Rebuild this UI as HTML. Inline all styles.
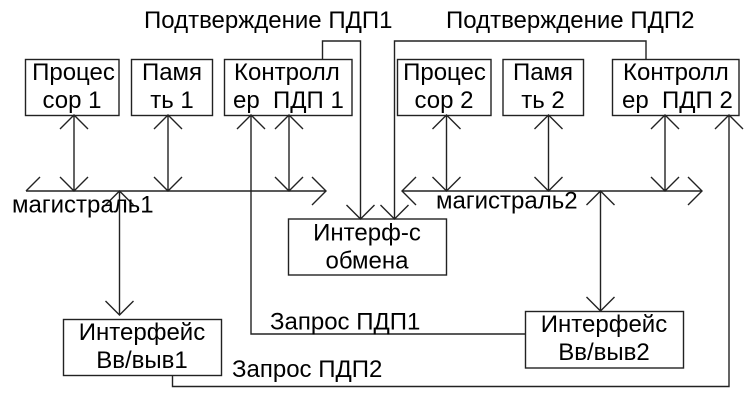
<!DOCTYPE html>
<html lang="ru">
<head>
<meta charset="utf-8">
<style>
html,body{margin:0;padding:0;background:#fff;}
svg{display:block;}
text{font-family:"Liberation Sans",sans-serif;font-size:24px;fill:#000;}
.m{text-anchor:middle;}
</style>
</head>
<body>
<svg width="749" height="407" viewBox="0 0 749 407" xmlns="http://www.w3.org/2000/svg">
<rect width="749" height="407" fill="#fff"/>
<g fill="none" stroke="#222" stroke-width="1.4">
<rect x="25.5" y="59.5" width="93.5" height="56"/>
<rect x="131.5" y="59.5" width="81" height="56"/>
<rect x="224.5" y="59.5" width="127.5" height="56"/>
<rect x="397.5" y="59.5" width="93.5" height="56"/>
<rect x="503" y="59.5" width="80.5" height="56"/>
<rect x="612.5" y="59.5" width="126.5" height="56"/>
<rect x="288.5" y="219" width="158" height="56"/>
<rect x="63.5" y="319.5" width="158" height="56"/>
<rect x="525.5" y="311.5" width="158" height="56.5"/>
<path d="M26 191H326M402 191H702"/>
<path d="M40 177L26 191M312 177L326 191L312 205M416 177L402 191L416 205M688 177L702 191L688 205"/>
<path d="M74 115V191M60 129L74 115L88 129M60 177L74 191L88 177"/>
<path d="M168 115V191M154 129L168 115L182 129M154 177L168 191L182 177"/>
<path d="M289 115V191M275 129L289 115L303 129M275 177L289 191L303 177"/>
<path d="M446.500 115V191M432.500 129L446.500 115L460.500 129M432.500 177L446.500 191L460.500 177"/>
<path d="M548.500 115V191M534.500 129L548.500 115L562.500 129M534.500 177L548.500 191L562.500 177"/>
<path d="M665 115V191M651 129L665 115L679 129M651 177L665 191L679 177"/>
<path d="M119.500 191V315M105.500 205L119.500 191L133.500 205M105.500 301L119.500 315L133.500 301"/>
<path d="M600.500 191V311M586.500 205L600.500 191L614.500 205M586.500 297L600.500 311L614.500 297"/>
<path d="M322.500 59V41H360.500V219M346.500 205L360.500 219L374.500 205"/>
<path d="M646 59V41H394.500V219M380.500 205L394.500 219L408.500 205"/>
<path d="M525.500 334H251V115M237 129L251 115L265 129"/>
<path d="M172.500 375.500V386.500H729V115M715 129L729 115L743 129"/>
</g>
<text x="144" y="28">Подтверждение ПДП1</text>
<text x="446" y="28">Подтверждение ПДП2</text>
<text class="m" x="73.500" y="80">Процес</text>
<text class="m" x="72" y="108">сор 1</text>
<text class="m" x="172" y="80">Памя</text>
<text class="m" x="172" y="108">ть 1</text>
<text x="234" y="80">Контролл</text>
<text x="233" y="108">ер&#160;&#160;ПДП 1</text>
<text class="m" x="444.500" y="80">Процес</text>
<text class="m" x="444" y="108">сор 2</text>
<text class="m" x="543" y="80">Памя</text>
<text class="m" x="543" y="108">ть 2</text>
<text x="623" y="80">Контролл</text>
<text x="622" y="108">ер&#160;&#160;ПДП 2</text>
<text x="12" y="212.500">магистраль1</text>
<text x="436" y="208.500">магистраль2</text>
<text class="m" x="367" y="240.500">Интерф-с</text>
<text class="m" x="367" y="268.500">обмена</text>
<text class="m" x="142" y="340">Интерфейс</text>
<text class="m" x="142" y="368">Вв/выв1</text>
<text class="m" x="604" y="332">Интерфейс</text>
<text class="m" x="604" y="360">Вв/выв2</text>
<text x="270" y="329.500">Запрос ПДП1</text>
<text x="232" y="377">Запрос ПДП2</text>
</svg>
</body>
</html>
